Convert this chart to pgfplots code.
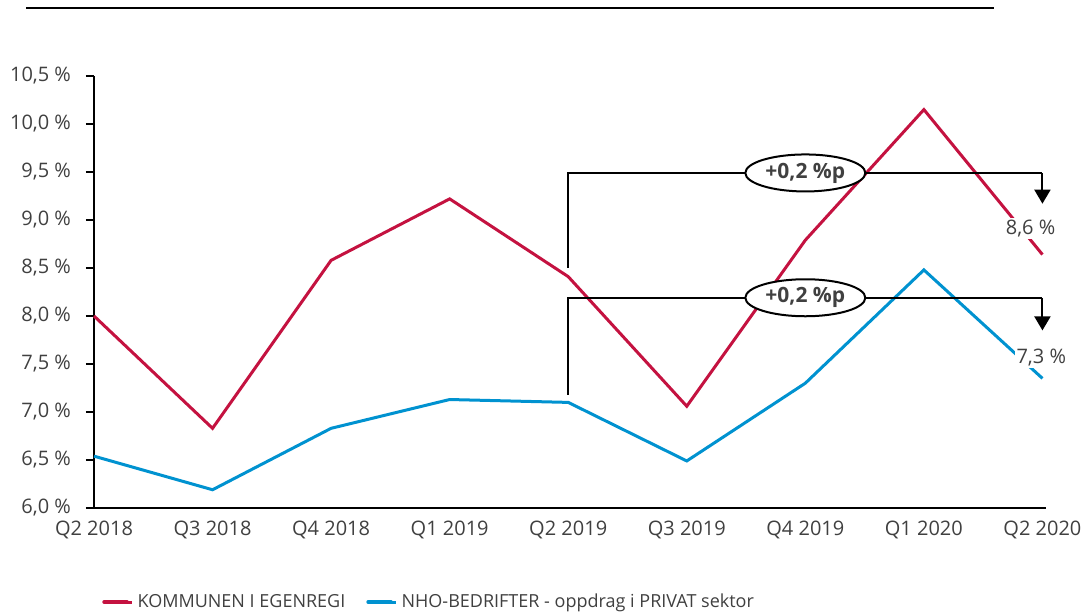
\documentclass[border=0pt]{standalone}
\usepackage{pgfplots}
\pgfplotsset{compat=1.18}
\usepackage{fontspec}
\setmainfont{Open Sans}
\usetikzlibrary{arrows.meta,shapes.geometric}
\definecolor{kred}{RGB}{196,18,64}
\definecolor{nblue}{RGB}{0,146,208}
\definecolor{txt}{RGB}{64,64,64}
\begin{document}
\begin{tikzpicture}
\useasboundingbox (0,0) rectangle (540.5pt,307.5pt);
\draw[line width=1.4pt] (13pt,303.5pt) -- (497pt,303.5pt);
\begin{axis}[
  at={(47pt,53.5pt)}, anchor=south west,
  scale only axis, width=476pt, height=216pt,
  xmin=0, xmax=8.03, ymin=6, ymax=10.5,
  clip=false,
  axis x line=bottom, axis y line=left,
  axis line style={line width=1pt, -},
  xtick={0,...,8},
  xticklabels={Q2 2018,Q3 2018,Q4 2018,Q1 2019,Q2 2019,Q3 2019,Q4 2019,Q1 2020,Q2 2020},
  xtick style={draw=none},
  ytick={6,6.5,...,10.5},
  yticklabels={{6,0 \%},{6,5 \%},{7,0 \%},{7,5 \%},{8,0 \%},{8,5 \%},{9,0 \%},{9,5 \%},{10,0 \%},{10,5 \%}},
  ytick align=outside, major tick length=4pt,
  ytick style={line width=1pt, black},
  tick label style={font=\fontsize{10}{12}\selectfont, text=txt},
  yticklabel style={xshift=-4pt},
  xticklabel style={yshift=-1pt},
  legend style={at={(0.002,-0.2176)}, anchor=west, draw=none, fill=none,
     font=\fontsize{9}{11}\selectfont, text=txt, legend columns=2,
     /tikz/every even column/.append style={column sep=8.5pt}},
  legend image code/.code={\draw[#1, line width=1.75pt, line cap=round] (0pt,0pt) -- (11.5pt,0pt); \path (0pt,0pt) -- (14pt,0pt);},
]
\addplot[kred, line width=1.5pt] coordinates {(0,8.00) (1,6.83) (2,8.58) (3,9.22) (4,8.41) (5,7.06) (6,8.79) (7,10.15) (8,8.64)};
\addlegendentry{KOMMUNEN I EGENREGI}
\addplot[nblue, line width=1.5pt] coordinates {(0,6.54) (1,6.19) (2,6.83) (3,7.13) (4,7.10) (5,6.49) (6,7.30) (7,8.48) (8,7.35)};
\addlegendentry{NHO-BEDRIFTER - oppdrag i PRIVAT sektor}
% annotations
\draw[line width=1pt] (axis cs:4,8.5) -- (axis cs:4,9.49) -- (axis cs:8,9.49);
\draw[line width=1pt, -{Triangle[width=8pt,length=7pt]}] (axis cs:8,9.49) -- (axis cs:8,9.17);
\node[draw, line width=1pt, fill=white, ellipse, minimum width=60pt, minimum height=18.5pt, inner sep=0pt, font=\bfseries\fontsize{10.5}{12}\selectfont, text=txt] at (axis cs:6,9.49) {+0,2 \%p};
\draw[line width=1pt] (axis cs:4,7.18) -- (axis cs:4,8.19) -- (axis cs:8,8.19);
\draw[line width=1pt, -{Triangle[width=8pt,length=7pt]}] (axis cs:8,8.19) -- (axis cs:8,7.85);
\node[draw, line width=1pt, fill=white, ellipse, minimum width=60pt, minimum height=18.5pt, inner sep=0pt, font=\bfseries\fontsize{10.5}{12}\selectfont, text=txt] at (axis cs:6,8.19) {+0,2 \%p};
\node[fill=white, inner sep=1pt, font=\fontsize{10}{12}\selectfont, text=txt] at (axis cs:7.90,8.91) {8,6 \%};
\node[fill=white, inner sep=1pt, font=\fontsize{10}{12}\selectfont, text=txt] at (axis cs:7.99,7.57) {7,3 \%};
\end{axis}
\end{tikzpicture}
\end{document}
